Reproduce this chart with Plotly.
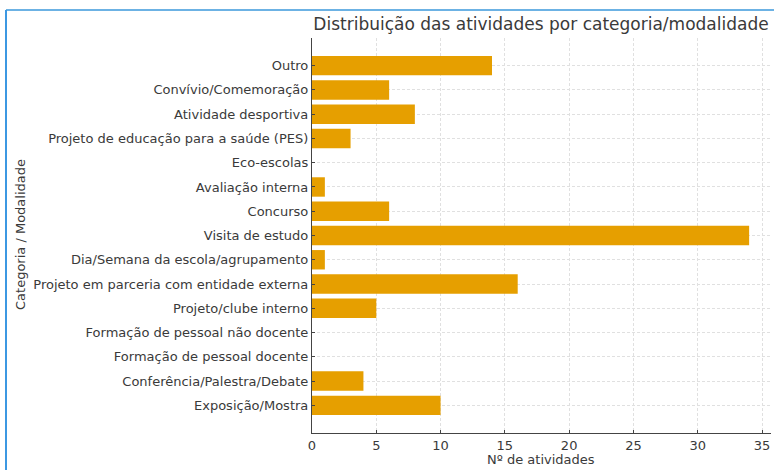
import plotly.graph_objects as go

categories = [
    "Exposição/Mostra",
    "Conferência/Palestra/Debate",
    "Formação de pessoal docente",
    "Formação de pessoal não docente",
    "Projeto/clube interno",
    "Projeto em parceria com entidade externa",
    "Dia/Semana da escola/agrupamento",
    "Visita de estudo",
    "Concurso",
    "Avaliação interna",
    "Eco-escolas",
    "Projeto de educação para a saúde (PES)",
    "Atividade desportiva",
    "Convívio/Comemoração",
    "Outro",
]
values = [10, 4, 0, 0, 5, 16, 1, 34, 6, 1, 0, 3, 8, 6, 14]
x_ticks = [0, 5, 10, 15, 20, 25, 30, 35]

W, H = 774, 470
L, R, T, B = 312, 3, 38, 37
pw = W - L - R
ph = H - T - B

FONT = "DejaVu Sans"
TXT = "#3a3a3a"

fig = go.Figure(go.Bar(
    y=list(range(len(categories))),
    x=values,
    orientation="h",
    width=0.8,
    marker=dict(color="#E69F00", line=dict(width=0)),
))

def px_to_paper_x(px):
    return (px - L) / pw

def px_to_paper_y(py):
    return (H - B - py) / ph

fig.update_layout(
    width=W, height=H,
    margin=dict(l=L, r=R, t=T, b=B),
    paper_bgcolor="white",
    plot_bgcolor="white",
    showlegend=False,
    font=dict(family=FONT, size=13, color=TXT),
    title=dict(
        text="Distribuição das atividades por categoria/modalidade",
        x=px_to_paper_x(541), xref="paper", xanchor="center",
        y=1 - 24 / H, yref="container", yanchor="middle",
        font=dict(size=17, color=TXT, family=FONT),
    ),
    xaxis=dict(
        range=[0, 35.7],
        tickvals=x_ticks,
        ticks="inside", ticklen=3, tickcolor="#444",
        showline=True, linecolor="#444", linewidth=1.2,
        showgrid=True, gridcolor="#e0e0e0", griddash="3px,2px", gridwidth=0.8,
        zeroline=False,
        tickfont=dict(size=13, color=TXT),
        fixedrange=True,
    ),
    yaxis=dict(
        range=[-1.14, 15.14],
        tickvals=list(range(len(categories))),
        ticktext=categories,
        ticks="inside", ticklen=3, tickcolor="#444",
        showline=True, linecolor="#444", linewidth=1.2,
        showgrid=True, gridcolor="#e0e0e0", griddash="3px,2px", gridwidth=0.8,
        zeroline=False,
        tickfont=dict(size=13, color=TXT),
        fixedrange=True,
    ),
    annotations=[
        dict(text="Nº de atividades", xref="paper", yref="paper",
             x=px_to_paper_x(541), y=px_to_paper_y(460), xanchor="center", yanchor="middle",
             showarrow=False, font=dict(size=13, color=TXT)),
        dict(text="Categoria / Modalidade", xref="paper", yref="paper",
             x=px_to_paper_x(20), y=px_to_paper_y(235), xanchor="center", yanchor="middle",
             textangle=-90, showarrow=False, font=dict(size=13, color=TXT)),
    ],
    shapes=[
        dict(type="line", xref="paper", yref="paper",
             x0=px_to_paper_x(6), x1=px_to_paper_x(800),
             y0=px_to_paper_y(10), y1=px_to_paper_y(10),
             line=dict(color="#6cb2e4", width=2)),
        dict(type="line", xref="paper", yref="paper",
             x0=px_to_paper_x(6), x1=px_to_paper_x(6),
             y0=px_to_paper_y(10), y1=px_to_paper_y(500),
             line=dict(color="#3c98e2", width=2)),
    ],
)

fig.write_html(
    "out.html",
    config=dict(displayModeBar=False),
    post_script="document.body.style.margin='0';document.body.style.overflow='hidden';",
)
